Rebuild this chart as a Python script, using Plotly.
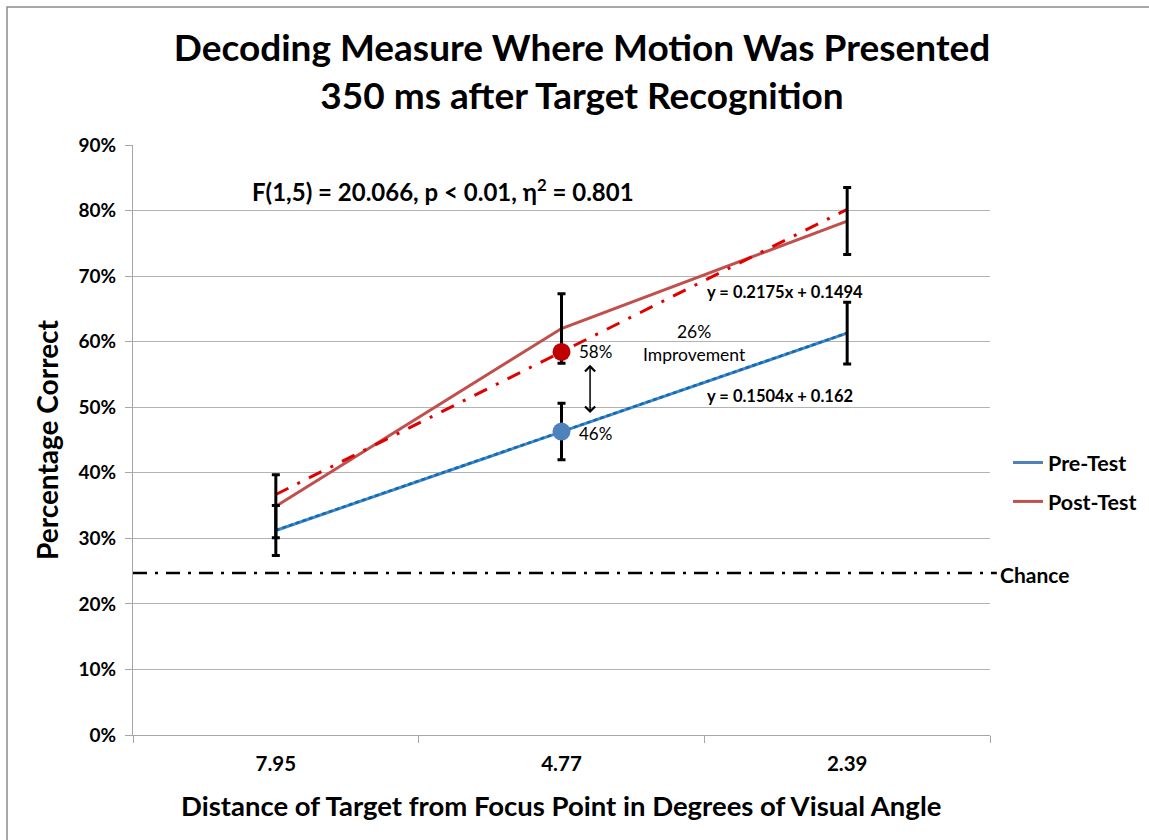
import plotly.graph_objects as go

# Distances of the target (category axis, left to right)
categories = ["7.95", "4.77", "2.39"]

# Mean decoding accuracy per session
pre_test = [0.312, 0.463, 0.613]
post_test = [0.349, 0.620, 0.784]

# Error bar half-lengths
pre_err = [0.038, 0.043, 0.047]
post_err = [0.048, 0.053, 0.051]

# Linear trend coefficients (x = 1, 2, 3)
pre_slope, pre_intercept = 0.1504, 0.162
post_slope, post_intercept = 0.2175, 0.1494

# Highlighted values at the middle distance
highlight_idx = 1
pre_point = pre_slope * 2 + pre_intercept
post_point = post_slope * 2 + post_intercept

chance_level = 0.247

y_ticks = [i / 10 for i in range(10)]

FONT = "Lato"
BLUE = "#4F81BD"
RED = "#C0504D"
TREND_BLUE = "#0070C0"
TREND_RED = "#E00000"

xs = list(range(len(categories)))
pre_trend = [pre_slope * (i + 1) + pre_intercept for i in xs]
post_trend = [post_slope * (i + 1) + post_intercept for i in xs]

fig = go.Figure()

fig.add_trace(go.Scatter(x=xs, y=pre_test, mode="lines", name="Pre-Test",
                         legendgroup="pre",
                         line=dict(color=BLUE, width=3)))
fig.add_trace(go.Scatter(x=xs, y=post_test, mode="lines", name="Post-Test",
                         legendgroup="post",
                         line=dict(color=RED, width=3)))
fig.add_trace(go.Scatter(x=xs, y=pre_trend, mode="lines", showlegend=False,
                         line=dict(color=TREND_BLUE, width=2.5, dash="4px,3px")))
fig.add_trace(go.Scatter(x=xs, y=post_trend, mode="lines", showlegend=False,
                         line=dict(color=TREND_RED, width=3, dash="14px,10px,3px,10px")))

# Error bars drawn above the lines
for vals, errs in ((pre_test, pre_err), (post_test, post_err)):
    fig.add_trace(go.Scatter(
        x=xs, y=vals, mode="markers", showlegend=False,
        marker=dict(size=1, color="rgba(0,0,0,0)"),
        error_y=dict(type="data", array=errs, visible=True,
                     color="black", thickness=3, width=4)))

# Highlight markers at the middle distance
fig.add_trace(go.Scatter(x=[highlight_idx], y=[post_point], mode="markers",
                         showlegend=False,
                         marker=dict(size=18, color="#C00000")))
fig.add_trace(go.Scatter(x=[highlight_idx], y=[pre_point], mode="markers",
                         showlegend=False,
                         marker=dict(size=18, color=BLUE)))

# Chance level
fig.add_shape(type="line", xref="paper", yref="y", x0=0, x1=1.008,
              y0=chance_level, y1=chance_level,
              line=dict(color="black", width=2.5, dash="14px,8px,3px,8px"))

# Outer frame
fig.add_shape(type="rect", xref="paper", yref="paper",
              x0=(7 - 133) / 857, x1=(1170 - 133) / 857,
              y0=(735 - 860) / 590, y1=(735 - 7) / 590,
              line=dict(color="#8C8C8C", width=1.5))

ann = []
ann.append(dict(x=0.585, y=0.831, xref="x", yref="y", showarrow=False,
                xanchor="center", yanchor="middle",
                text="<b>F(1,5) = 20.066, p < 0.01, η<sup>2</sup> = 0.801</b>",
                font=dict(size=24)))
ann.append(dict(x=1.502, y=0.676, xref="x", yref="y", showarrow=False,
                xanchor="left",
                text=f"<b>y = {post_slope}x + {post_intercept}</b>",
                font=dict(size=16.5)))
ann.append(dict(x=1.502, y=0.517, xref="x", yref="y", showarrow=False,
                xanchor="left",
                text=f"<b>y = {pre_slope}x + {pre_intercept}</b>",
                font=dict(size=16.5)))
improvement = (post_point - pre_point) / pre_point
ann.append(dict(x=1.467, y=0.598, xref="x", yref="y", showarrow=False,
                text=f"{improvement:.0%}<br>Improvement",
                font=dict(size=17.5)))
ann.append(dict(x=1.055, y=post_point, xref="x", yref="y", showarrow=False,
                xanchor="left", text=f"{post_point:.0%}", font=dict(size=17)))
ann.append(dict(x=1.055, y=pre_point - 0.003, xref="x", yref="y", showarrow=False,
                xanchor="left", text=f"{pre_point:.0%}", font=dict(size=17)))
ann.append(dict(x=1.1, y=0.491, ax=1.1, ay=0.567, xref="x", yref="y",
                axref="x", ayref="y", showarrow=True, text="",
                arrowhead=4, startarrowhead=4, arrowside="end+start",
                arrowwidth=1.5, arrowsize=1.3, arrowcolor="black"))
ann.append(dict(x=1.009, y=chance_level - 0.002, xref="paper", yref="y",
                showarrow=False, xanchor="left",
                text="<b>Chance</b>", font=dict(size=21)))
ann.append(dict(x=(47 - 133) / 857, y=(735 - 440) / 590, xref="paper",
                yref="paper", showarrow=False, textangle=-90,
                xanchor="center", yanchor="middle",
                text="<b>Percentage Correct</b>", font=dict(size=28)))
ann.append(dict(x=(561 - 133) / 857, y=(735 - 805) / 590, xref="paper",
                yref="paper", showarrow=False,
                xanchor="center", yanchor="middle",
                text="<b>Distance of Target from Focus Point in Degrees of Visual Angle</b>",
                font=dict(size=27.5)))

fig.update_layout(
    width=1149, height=840,
    margin=dict(l=133, r=159, t=145, b=105, autoexpand=False),
    paper_bgcolor="white", plot_bgcolor="white",
    font=dict(family=FONT, color="black"),
    title=dict(text="<b>Decoding Measure Where Motion Was Presented<br>350 ms after Target Recognition</b>",
               x=582 / 1149, xanchor="center",
               y=1 - 61 / 840, yanchor="middle", yref="container",
               font=dict(size=37, family=FONT)),
    annotations=ann,
    legend=dict(x=(1008 - 133) / 857, y=(735 - 442) / 590,
                xanchor="left", yanchor="top",
                font=dict(size=21.5, family=FONT, weight="bold"),
                tracegroupgap=8, bgcolor="rgba(0,0,0,0)"),
    showlegend=True,
)

fig.update_xaxes(
    range=[-0.5, 2.5], tickvals=xs, ticktext=[f"<b>{c}</b>" for c in categories],
    ticks="", showgrid=False, showline=True, linecolor="#A6A6A6", linewidth=1,
    zeroline=False, tickfont=dict(size=20.5),
    minor=dict(tickvals=[-0.5, 0.5, 1.5, 2.5], ticks="outside", ticklen=7,
               tickcolor="#A6A6A6", showgrid=False),
    ticklabelstandoff=10,
)
fig.update_yaxes(
    range=[0, 0.9], tickvals=y_ticks,
    ticktext=[f"<b>{int(round(v * 100))}%</b>" for v in y_ticks],
    ticks="outside", ticklen=7, tickcolor="#A6A6A6",
    showgrid=True, gridcolor="#B3B3B3", gridwidth=1,
    showline=True, linecolor="#A6A6A6", linewidth=1, zeroline=False,
    tickfont=dict(size=19), ticklabelstandoff=5,
)

fig.write_html("out.html")
